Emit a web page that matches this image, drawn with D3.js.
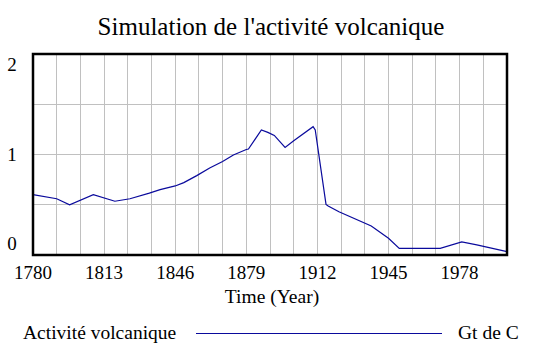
<!DOCTYPE html>
<html>
<head>
<meta charset="utf-8">
<script src="https://cdn.jsdelivr.net/npm/d3@7"></script>
<style>
html,body{margin:0;padding:0;background:#fff;}
svg{display:block;}
</style>
</head>
<body>
<svg id="chart" width="542" height="358"></svg>
<script>
const title = "Simulation de l'activité volcanique";
const xTitle = "Time (Year)";
const seriesName = "Activité volcanique";
const seriesUnit = "Gt de C";
const years = [1780, 1791, 1797, 1808, 1818, 1825, 1834, 1839, 1846, 1850, 1856, 1862, 1868, 1873, 1879, 1880, 1886, 1889, 1892, 1897, 1901, 1910, 1911, 1916, 1917, 1922, 1937, 1945, 1950, 1969, 1979, 1986, 2000];
const values = [0.60, 0.56, 0.50, 0.60, 0.535, 0.56, 0.615, 0.65, 0.687, 0.72, 0.79, 0.866, 0.93, 0.995, 1.05, 1.055, 1.244, 1.22, 1.19, 1.07, 1.137, 1.277, 1.244, 0.504, 0.487, 0.43, 0.289, 0.166, 0.066, 0.066, 0.13, 0.10, 0.033];
const xTickLabels = [1780, 1813, 1846, 1879, 1912, 1945, 1978];
const xGrid = d3.range(1780, 2000.1, 11);
const yTickLabels = [0, 1, 2];
const yGrid = [0.5, 1, 1.5];

const FONT = "'Liberation Serif', 'Times New Roman', Times, serif";
const LINE_COLOR = "#0a0a9c";
const svg = d3.select("#chart").attr("font-family", FONT);
const L = 33, R = 507, T = 54, B = 255;
const x = d3.scaleLinear().domain([1780, 2000]).range([L, R]);
const y = d3.scaleLinear().domain([0, 2]).range([B, T]);

function txt(g) {
  return g.append("text").attr("font-family", FONT).attr("fill", "#000");
}

// title
txt(svg).attr("x", 271).attr("y", 35).attr("text-anchor", "middle")
  .attr("font-size", 25).text(title);

// grid
svg.append("g").selectAll("line").data(xGrid).join("line")
  .attr("x1", d => x(d)).attr("x2", d => x(d)).attr("y1", T).attr("y2", B)
  .attr("stroke", "#c0c0c0").attr("stroke-width", 1).attr("shape-rendering", "crispEdges");
svg.append("g").selectAll("line").data(yGrid).join("line")
  .attr("x1", L).attr("x2", R).attr("y1", d => y(d)).attr("y2", d => y(d))
  .attr("stroke", "#c0c0c0").attr("stroke-width", 1).attr("shape-rendering", "crispEdges");

// series line
const line = d3.line().x((d, i) => x(years[i])).y(d => y(d));
svg.append("path").datum(values).attr("d", line)
  .attr("fill", "none").attr("stroke", LINE_COLOR).attr("stroke-width", 1.2);

// frame
svg.append("rect").attr("x", L).attr("y", T).attr("width", R - L).attr("height", B - T)
  .attr("fill", "none").attr("stroke", "#000").attr("stroke-width", 2.5);

// x tick labels
const gx = svg.append("g");
xTickLabels.forEach(d => {
  txt(gx).attr("x", x(d)).attr("y", 278.5).attr("text-anchor", "middle")
    .attr("font-size", 19).text(d);
});

// y tick labels (inset at ends)
const yLabelY = {0: 250, 1: y(1) + 6.5, 2: 70.5};
const gy = svg.append("g");
yTickLabels.forEach(d => {
  txt(gy).attr("x", 12).attr("y", yLabelY[d]).attr("text-anchor", "middle")
    .attr("font-size", 19).text(d);
});

// x title
txt(svg).attr("x", 272).attr("y", 302.5).attr("text-anchor", "middle")
  .attr("font-size", 19.5).text(xTitle);

// legend
txt(svg).attr("x", 23).attr("y", 338.5).attr("font-size", 19.5).text(seriesName);
svg.append("line").attr("x1", 196).attr("x2", 442).attr("y1", 333.5).attr("y2", 333.5)
  .attr("stroke", LINE_COLOR).attr("stroke-width", 1.2);
txt(svg).attr("x", 458).attr("y", 338.5).attr("font-size", 19.5).text(seriesUnit);
</script>
</body>
</html>
